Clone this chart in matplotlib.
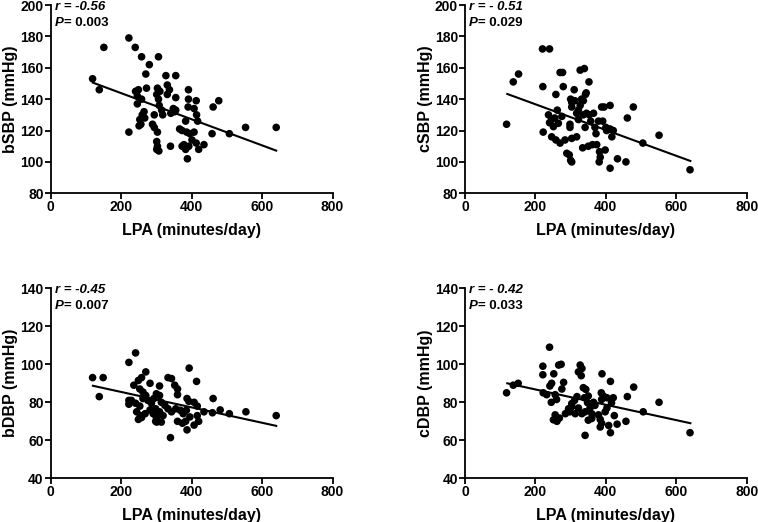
import numpy as np
import matplotlib
matplotlib.use('Agg')
import matplotlib.pyplot as plt

plt.rcParams['font.family'] = ['Liberation Sans', 'DejaVu Sans']
plt.rcParams['font.weight'] = 'bold'

# LPA (minutes/day) vs blood pressure
bsbp_x = [119, 138, 151, 222, 240, 258, 306, 280, 270, 327, 355,
	241, 249, 272, 303, 310, 331, 337,
	246, 258, 246, 301, 306, 331, 355, 391, 391, 413, 407, 390, 461, 477,
	308, 315, 348, 355, 341, 352, 265, 260, 253, 267, 256, 251, 294, 289, 294, 303, 318, 222,
	414, 417, 383, 386, 366, 373, 395, 407, 401, 458, 507, 553, 640,
	301, 303, 301, 307, 340, 373, 383, 388, 413, 420, 435, 378, 392]
bsbp_y = [153, 146, 173, 179, 173, 167, 167, 162, 156, 155, 155,
	145, 146, 147, 147, 145, 149, 146,
	142, 140, 137, 143, 140, 143, 141, 146, 140, 139, 134, 135, 135, 139,
	136, 133, 134, 133, 131, 132, 132, 130, 127, 128, 124, 123, 130, 124, 122, 119, 130, 119,
	130, 126, 126, 119, 121, 120, 118, 119, 114, 118, 118, 122, 122,
	113, 110, 108, 107, 110, 110, 108, 102, 112, 108, 111, 111, 110]

csbp_x = [118, 137, 152, 220, 240, 221, 222, 270, 277, 258, 279, 310, 327, 339, 352, 342, 336, 327, 322, 303, 312,
	237, 246, 251, 265, 275, 262, 240, 255,
	246, 258, 270, 284, 303, 317, 289, 296, 300, 303,
	298, 298, 300, 308, 303, 317, 322, 336, 341, 334, 345, 353, 357, 365, 369, 372, 350, 362, 374,
	379, 391, 388, 395, 412, 400, 402, 412, 421, 417, 382, 384, 381, 398, 412, 433, 457, 461, 478,
	505, 551, 639, 344, 331]
csbp_y = [124, 151, 156, 172, 172, 148, 119, 157, 157, 143, 148, 146, 158.5, 159.5, 151, 143, 139, 136, 133, 138, 139,
	130, 127, 122.5, 124.6, 129, 133, 125, 128,
	116, 114, 112, 114, 115, 116, 105.5, 104.5, 101, 100,
	122, 124, 140, 139, 135, 131, 127, 130, 122, 109, 131, 130, 126, 131, 122, 118, 110, 111, 111,
	126, 126, 135, 135, 136, 122, 120, 121, 120, 116, 106.5, 103, 100, 107.6, 96, 102, 100, 128, 135,
	112, 117, 95, 144, 140]

bdbp_x = [119, 149, 138, 241, 222, 222, 222, 270, 258, 249, 236, 282, 309, 333, 343, 352, 360, 360,
	393, 414, 461, 387, 392, 407, 416, 435, 459, 481, 507, 554, 640, 340, 387, 360, 374, 383,
	407, 420, 416, 249, 258, 268, 282, 291, 300, 298, 229, 241, 253, 262, 270, 276, 286, 293,
	300, 309, 314, 324, 333, 343, 355, 368, 376, 385, 395, 253, 262, 244, 255, 298, 309, 319, 314, 301]
bdbp_y = [93, 93, 83, 106, 101, 81, 79, 96, 93, 91.5, 89, 90, 88.6, 93, 92.5, 89, 87, 84,
	98, 91, 82, 82, 80.5, 80, 78, 75, 74.5, 76, 74, 75, 73, 61.4, 65.5, 70, 69, 70,
	68, 70, 73, 71, 72, 74, 76, 74, 72, 70, 81, 79.5, 78, 82, 83.6, 81, 79.5, 82,
	84.5, 83.6, 80, 78.4, 76.6, 75, 76.6, 75.8, 74, 75.8, 72.3, 87, 85.4, 75, 73, 76.6, 75, 73, 69.6, 69.6]

cdbp_x = [118, 137, 151, 240, 221, 221, 252, 266, 273, 222, 232, 241, 246, 245, 256, 260, 275, 280,
	256, 251, 261, 268, 285, 294, 303, 298, 313, 322, 311, 318, 303, 327, 332, 322, 330,
	336, 343, 339, 350, 348, 332, 341, 341, 355, 360, 369, 365, 350, 360, 379, 384, 388,
	387, 393, 403, 388, 389, 413, 416, 421, 403, 398, 408, 413, 424, 432, 457, 461, 479,
	506, 551, 639, 384]
cdbp_y = [85, 89, 90, 109, 99, 94.5, 95, 99.6, 100, 85, 84, 88.6, 90, 80, 84, 81.5, 87, 90.5,
	73.4, 70.8, 70, 71.7, 74, 76.6, 77.7, 75, 74, 77, 81, 83, 79.3, 99.6, 97.8, 96, 94,
	87.7, 86.8, 82.4, 83.3, 79.8, 74, 75, 62.6, 77, 74, 78.4, 80, 70.6, 71.5, 73.4, 71, 69,
	85, 83.3, 82.4, 81.5, 95, 91, 79.7, 82.4, 77, 75, 67.8, 64, 73, 68.5, 70, 83, 88,
	75, 80, 64, 67]

# regression line end points
fit_x = [120, 640]
bsbp_fit = [150.5, 107.2]
csbp_fit = [143.3, 100.6]
bdbp_fit = [88.7, 67.6]
cdbp_fit = [90.0, 69.0]

stats = [('r = -0.56', '0.003'), ('r = - 0.51', '0.029'), ('r = -0.45', '0.007'), ('r = - 0.42', '0.033')]
ylabels = ['bSBP (mmHg)', 'cSBP (mmHg)', 'bDBP (mmHg)', 'cDBP (mmHg)']


def panel(ax, x, y, fy, ylab, st, ylim, yticks):
	ax.scatter(x, y, s=30, color='black', edgecolors='none', zorder=3)
	ax.plot(fit_x, fy, color='black', lw=1.5, zorder=2)
	ax.set_xlim(0, 800)
	ax.set_ylim(*ylim)
	ax.set_xticks([0, 200, 400, 600, 800])
	ax.set_yticks(yticks)
	for s in ['top', 'right']:
		ax.spines[s].set_visible(False)
	for s in ['left', 'bottom']:
		ax.spines[s].set_linewidth(1.3)
	ax.tick_params(direction='out', length=4, width=1.3, labelsize=10, pad=1)
	for lab in ax.get_xticklabels() + ax.get_yticklabels():
		lab.set_fontweight('bold')
	ax.set_xlabel('LPA (minutes/day)', fontsize=11.5, fontweight='bold', labelpad=6)
	ax.set_ylabel(ylab, fontsize=11.5, fontweight='bold')
	ax.yaxis.set_label_coords(-0.115, 0.5)
	ax.text(0.015, 0.99, st[0], transform=ax.transAxes, fontsize=9.5, fontweight='bold',
		fontstyle='italic', va='center', ha='left')
	t = ax.text(0.015, 0.907, 'P', transform=ax.transAxes, fontsize=9.5, fontweight='bold',
		fontstyle='italic', va='center', ha='left')
	ax.annotate('= ' + st[1], xy=(1, 0.5), xycoords=t, fontsize=9.5, fontweight='bold',
		va='center', ha='left')


fig = plt.figure(figsize=(7.58, 5.22), dpi=100)
ax1 = fig.add_axes([0.0668, 0.6297, 0.372, 0.3607])
ax2 = fig.add_axes([0.6135, 0.6297, 0.3716, 0.3607])
ax3 = fig.add_axes([0.0668, 0.0837, 0.372, 0.364])
ax4 = fig.add_axes([0.6135, 0.0837, 0.3716, 0.364])

panel(ax1, bsbp_x, bsbp_y, bsbp_fit, ylabels[0], stats[0], (80, 200), range(80, 201, 20))
panel(ax2, csbp_x, csbp_y, csbp_fit, ylabels[1], stats[1], (80, 200), range(80, 201, 20))
panel(ax3, bdbp_x, bdbp_y, bdbp_fit, ylabels[2], stats[2], (40, 140), range(40, 141, 20))
panel(ax4, cdbp_x, cdbp_y, cdbp_fit, ylabels[3], stats[3], (40, 140), range(40, 141, 20))

fig.savefig('out.png', dpi=100)
